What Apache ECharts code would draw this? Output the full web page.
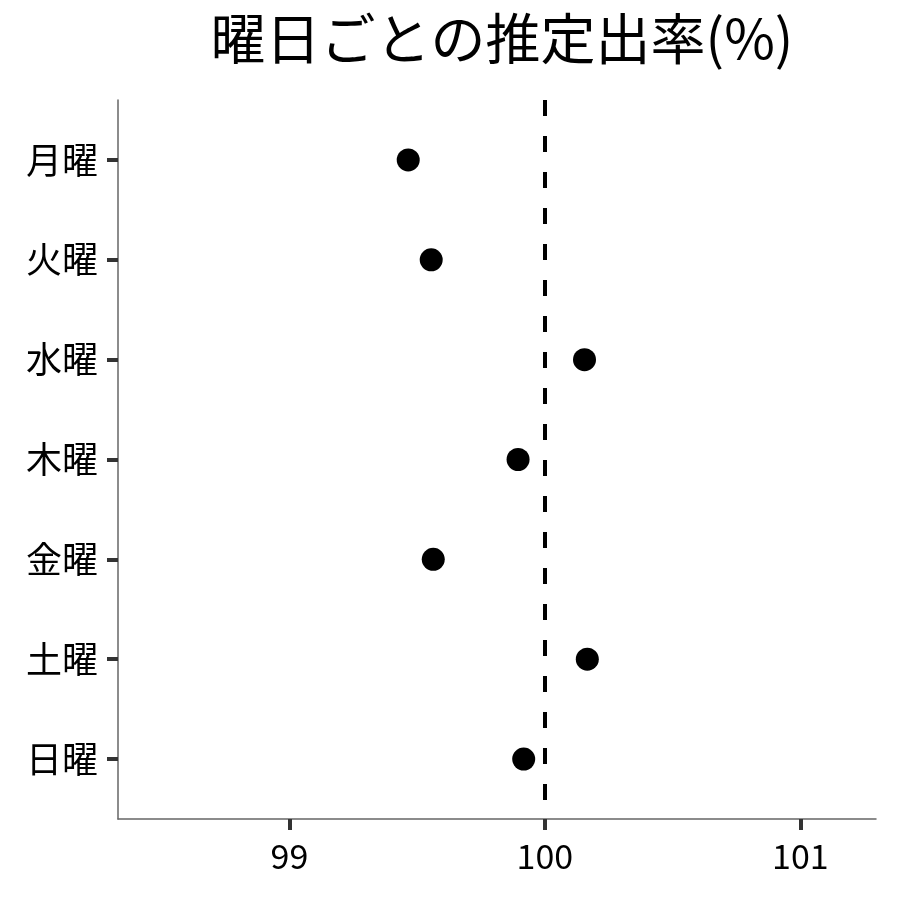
<!DOCTYPE html>
<html>
<head>
    <meta charset="utf-8">
    <title>曜日ごとの推定出率(%)</title>
    <script src="https://cdn.jsdelivr.net/npm/echarts@6/dist/echarts.min.js"></script>
    <style>
        html, body { margin: 0; padding: 0; background: #fff; }
    </style>
</head>
<body>
    <div id="main" style="width: 900px;height:900px;"></div>
    <script type="text/javascript">
        // 曜日 (上から順)
        var days = ['月曜', '火曜', '水曜', '木曜', '金曜', '土曜', '日曜'];
        // 推定出率(%)
        var rates = [99.465, 99.555, 100.155, 99.895, 99.563, 100.166, 99.917];
        var xTicks = [99, 100, 101];
        var refValue = 100;

        var font = '"Noto Sans CJK JP", "Noto Sans", sans-serif';
        var myChart = echarts.init(document.getElementById('main'));

        var points = rates.map(function (v, i) { return [v, i]; });

        var option = {
            animation: false,
            backgroundColor: '#fff',
            title: {
                text: '曜日ごとの推定出率(%)',
                left: 497,
                textAlign: 'center',
                top: 6,
                textStyle: {
                    fontFamily: font,
                    fontSize: 55,
                    fontWeight: 'normal',
                    color: '#000'
                }
            },
            grid: {
                left: 118,
                right: 24,
                top: 100,
                bottom: 81,
                containLabel: false
            },
            xAxis: {
                type: 'value',
                min: 98.329,
                max: 101.296,
                splitLine: { show: false },
                axisLine: { show: true, onZero: false, lineStyle: { color: '#666', width: 1.5 } },
                axisTick: {
                    show: true,
                    length: 11,
                    customValues: xTicks,
                    lineStyle: { color: '#333', width: 4 }
                },
                axisLabel: {
                    customValues: xTicks,
                    margin: 20,
                    fontFamily: font,
                    fontSize: 34,
                    color: '#000',
                    formatter: function (v) { return String(v); }
                }
            },
            yAxis: {
                type: 'value',
                inverse: true,
                min: -0.6,
                max: 6.6,
                splitLine: { show: false },
                axisLine: { show: true, onZero: false, lineStyle: { color: '#666', width: 1.5 } },
                axisTick: {
                    show: true,
                    length: 11,
                    customValues: [0, 1, 2, 3, 4, 5, 6],
                    lineStyle: { color: '#333', width: 4 }
                },
                axisLabel: {
                    customValues: [0, 1, 2, 3, 4, 5, 6],
                    margin: 20,
                    fontFamily: font,
                    fontSize: 36,
                    color: '#000',
                    formatter: function (v) { return days[Math.round(v)] || ''; }
                }
            },
            series: [{
                type: 'scatter',
                data: points,
                symbol: 'circle',
                symbolSize: 23,
                itemStyle: { color: '#000', opacity: 1 },
                markLine: {
                    silent: true,
                    symbol: ['none', 'none'],
                    label: { show: false },
                    lineStyle: { color: '#000', width: 4, type: [16, 20] },
                    data: [{ xAxis: refValue }]
                }
            }]
        };

        myChart.setOption(option);
    </script>
</body>
</html>
